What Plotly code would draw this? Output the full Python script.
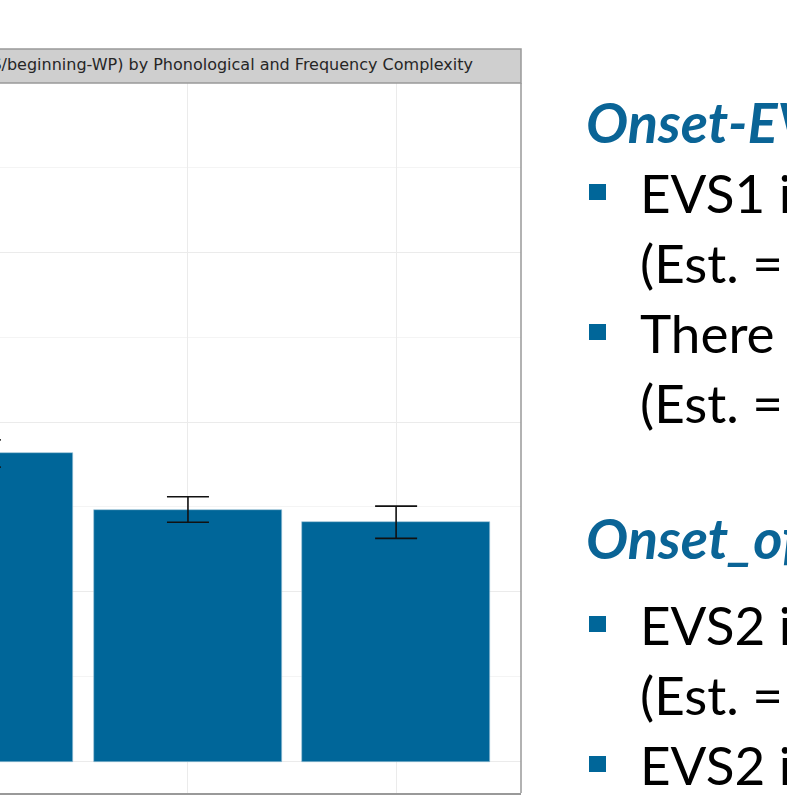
import plotly.graph_objects as go

# ---- data ----
categories = [0, 1, 2]                 # complexity groups (labels cut off in the reference)
onset_means = [363, 297, 282]          # bar heights (y units, gridline step = 200)
onset_se = [16, 15, 19]                # error bar half-lengths

strip_title = "Onset of EVS (EVS/beginning-WP) by Phonological and Frequency Complexity"

slide_lines = [
    ("Onset-EVS1", "head"),
    ("EVS1 is", "bullet"),
    ("(Est. = ", "cont"),
    ("There is", "bullet"),
    ("(Est. = ", "cont"),
    ("Onset_of_EVS2", "head"),
    ("EVS2 is", "bullet"),
    ("(Est. = ", "cont"),
    ("EVS2 is", "bullet"),
]
baselines = [143, 213, 283, 353, 423, 559, 645, 715, 785]

# ---- geometry ----
W, H = 787, 795
PLOT_L, PLOT_R = 0, 521
PLOT_T, PLOT_B = 83, 793
BLUE = "#006699"

def xp(px):
    return (px - PLOT_L) / (PLOT_R - PLOT_L)

def yp(py):
    return (PLOT_B - py) / (PLOT_B - PLOT_T)

fig = go.Figure()
fig.add_trace(go.Bar(
    x=categories, y=onset_means, width=0.9,
    marker=dict(color=BLUE, line=dict(width=0.6, color="#9cc3d8")),
    error_y=dict(type="data", array=onset_se, visible=True,
                 color="#111111", thickness=1.6, width=21),
    showlegend=False,
))

shapes = []
# strip
shapes.append(dict(type="rect", xref="paper", yref="paper",
                   x0=-0.05, x1=1, y0=1, y1=yp(49),
                   fillcolor="#cfcfcf", line=dict(color="#999999", width=1.5), layer="above"))
# right panel border
shapes.append(dict(type="line", xref="paper", yref="paper",
                   x0=1, x1=1, y0=0, y1=1, line=dict(color="#999999", width=1.5), layer="above"))

annotations = [dict(text=strip_title, xref="paper", yref="paper",
                    x=xp(475), y=yp(64), xanchor="right", yanchor="middle",
                    showarrow=False, font=dict(family="DejaVu Sans", size=16, color="#262626"))]

FS_HEAD = 56
FS = 53
for (txt, kind), base in zip(slide_lines, baselines):
    if kind == "head":
        annotations.append(dict(text="<b><i>%s</i></b>" % txt, xref="paper", yref="paper",
                                x=xp(584), y=yp(base - 0.387 * FS_HEAD), xanchor="left", yanchor="middle",
                                showarrow=False, font=dict(family="Lato", size=FS_HEAD, color="#0a6496")))
    else:
        annotations.append(dict(text=txt, xref="paper", yref="paper",
                                x=xp(638), y=yp(base - 0.387 * FS), xanchor="left", yanchor="middle",
                                showarrow=False, font=dict(family="Lato", size=FS, color="#000000")))
        if kind == "bullet":
            shapes.append(dict(type="rect", xref="paper", yref="paper",
                               x0=xp(589), x1=xp(606), y0=yp(base - 13), y1=yp(base - 29),
                               fillcolor=BLUE, line=dict(width=0)))

fig.update_layout(
    width=W, height=H,
    margin=dict(l=PLOT_L, r=W - PLOT_R, t=PLOT_T, b=H - PLOT_B, autoexpand=False),
    paper_bgcolor="white", plot_bgcolor="white",
    shapes=shapes, annotations=annotations,
    bargap=0,
)
fig.update_xaxes(range=[0.097, 2.6], tickvals=categories, showticklabels=False,
                 ticks="outside", ticklen=3, tickcolor="#333333", tickwidth=1.2,
                 showgrid=True, gridcolor="#ebebeb", gridwidth=1.3,
                 showline=True, linecolor="#999999", linewidth=1.5, mirror=True,
                 zeroline=False, fixedrange=True)
fig.update_yaxes(range=[-36.9, 799.4], dtick=200, tick0=0, showticklabels=False, ticks="",
                 showgrid=True, gridcolor="#ebebeb", gridwidth=1.3,
                 minor=dict(dtick=100, tick0=0, showgrid=True, gridcolor="#f4f4f4", gridwidth=1),
                 zeroline=False, showline=False, fixedrange=True)

fig.write_html("out.html", config={"displayModeBar": False},
               post_script="document.body.style.margin='0';document.body.style.overflow='hidden';")
